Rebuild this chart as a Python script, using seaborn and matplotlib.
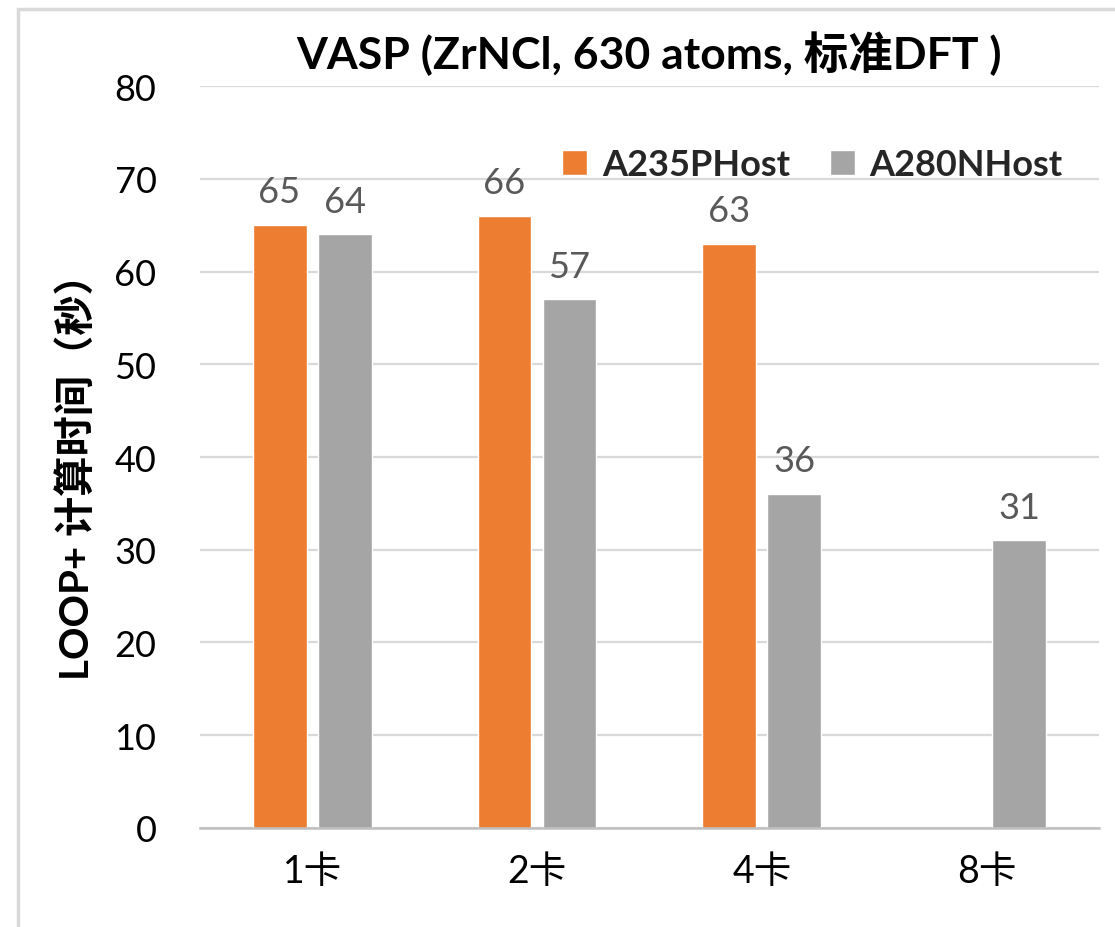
import numpy as np
import pandas as pd
import matplotlib
matplotlib.use("Agg")
import matplotlib.pyplot as plt
import seaborn as sns
from matplotlib.patches import Rectangle

categories = ["1卡", "2卡", "4卡", "8卡"]
series_names = ["A235PHost", "A280NHost"]
a235_values = [65, 66, 63, np.nan]
a280_values = [64, 57, 36, 31]
y_ticks = [0, 10, 20, 30, 40, 50, 60, 70, 80]
title = "VASP (ZrNCl, 630 atoms, 标准DFT )"
y_label = "LOOP+ 计算时间（秒）"
colors = ["#ED7D31", "#A5A5A5"]

df = pd.DataFrame({
    "cat": categories * 2,
    "series": [series_names[0]] * 4 + [series_names[1]] * 4,
    "value": a235_values + a280_values,
})

sns.set_theme(style="white")
plt.rcParams['font.family'] = ['Lato', 'Noto Sans CJK SC', 'DejaVu Sans']

fig = plt.figure(figsize=(11.15, 9.28), dpi=100)
ax = fig.add_axes([0.179, 0.1067, 0.807, 0.7995])

sns.barplot(data=df, x="cat", y="value", hue="series", order=categories,
            hue_order=series_names, palette=colors, width=0.578, gap=0.17,
            saturation=1, ax=ax, errorbar=None, legend=True)

for c in ax.containers:
    labels = [f"{b.get_height():.0f}" if np.isfinite(b.get_height()) else "" for b in c]
    ax.bar_label(c, labels=labels, padding=12, fontsize=26, color="#595959")

ax.set_ylim(0, 80)
ax.set_xlim(-0.5, 3.5)
ax.set_yticks(y_ticks)
ax.set_yticklabels([str(t) for t in y_ticks], fontsize=26, color="#000000")
ax.set_xticks(range(len(categories)))
ax.set_xticklabels(categories, fontsize=27, color="#000000")
ax.tick_params(axis="both", length=0)
ax.tick_params(axis="y", pad=31)
ax.tick_params(axis="x", pad=18)
ax.yaxis.grid(True, color="#D9D9D9", linewidth=1.6)
ax.set_axisbelow(True)
for s in ["top", "right", "left"]:
    ax.spines[s].set_visible(False)
ax.spines["bottom"].set_color("#BFBFBF")
ax.spines["bottom"].set_linewidth(1.8)

ax.set_xlabel("")
ax.set_ylabel(y_label, fontsize=29, fontweight="bold", color="#000000")
ax.yaxis.set_label_coords(-0.137, 0.488)
ax.yaxis.label.set_verticalalignment("center")

ax.set_title(title, fontsize=32, fontweight="bold", color="#000000", pad=13)

leg = ax.legend(loc="upper right", bbox_to_anchor=(0.995, 0.96), ncol=2, frameon=False,
                prop={"size": 26, "weight": "bold"}, handlelength=0.7, handleheight=0.7,
                handletextpad=0.4, columnspacing=1.1)

fig.patches.append(Rectangle((18 / 1115, -0.01), 1.1, (928 - 10) / 928 + 0.01,
                             transform=fig.transFigure, fill=False,
                             edgecolor="#D9D9D9", linewidth=2.5))

fig.savefig("out.png", dpi=100)
